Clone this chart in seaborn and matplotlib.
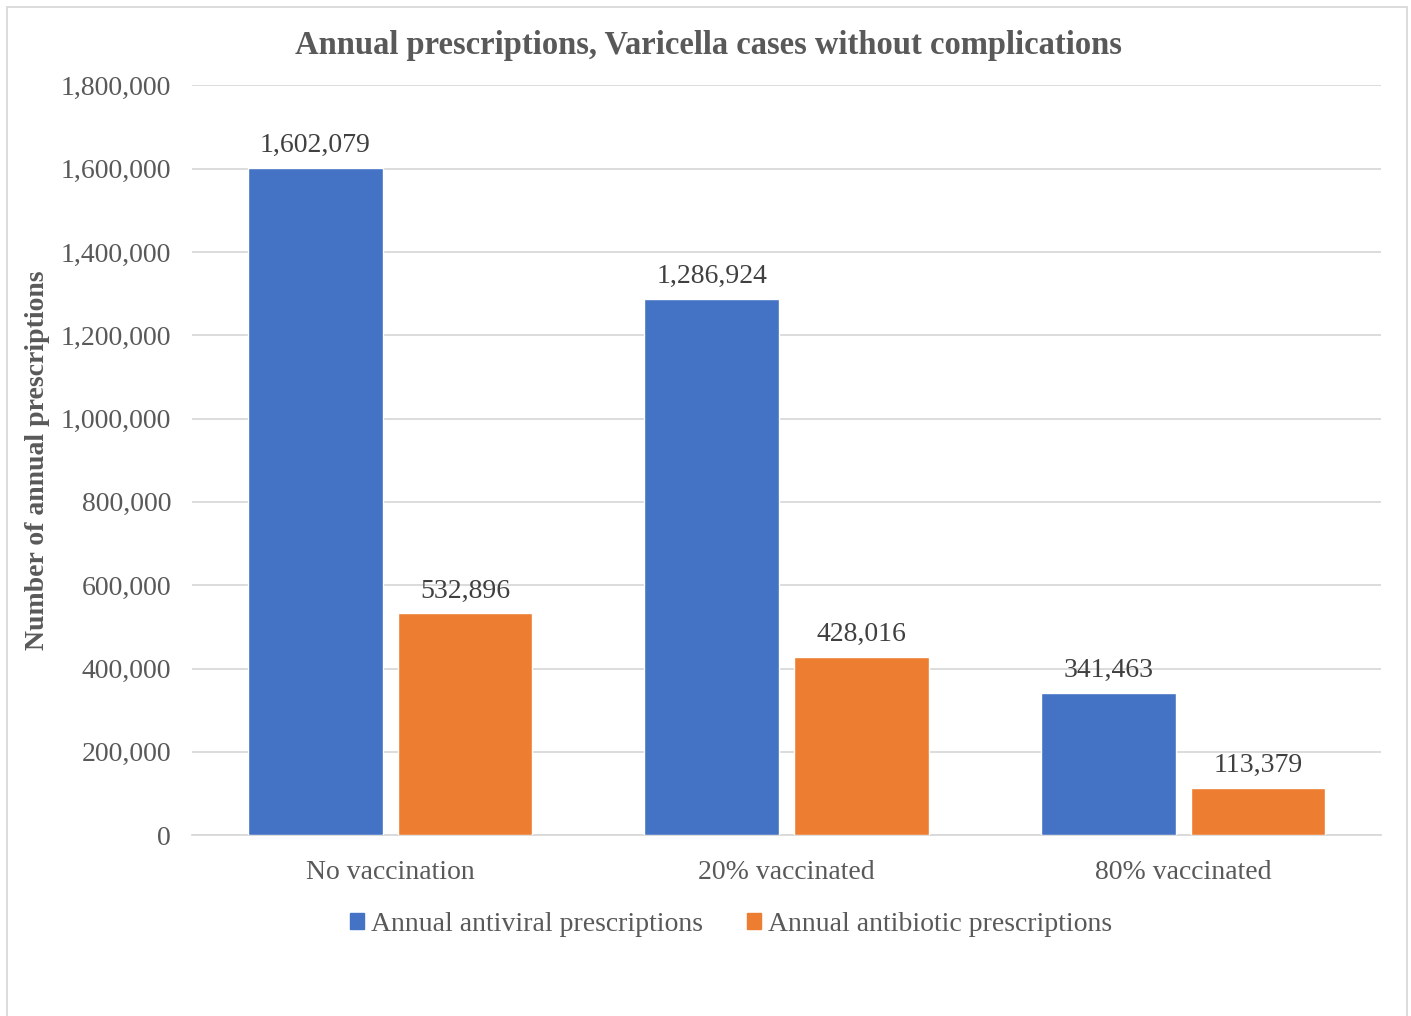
import matplotlib
matplotlib.use("Agg")
import matplotlib.pyplot as plt
import matplotlib.patches as mpatches
import seaborn as sns
import pandas as pd

# Scenario categories and prescription counts
scenarios = ["No vaccination", "20% vaccinated", "80% vaccinated"]
antiviral = [1602079, 1286924, 341463]
antibiotic = [532896, 428016, 113379]
series_names = ["Annual antiviral prescriptions", "Annual antibiotic prescriptions"]
yticks = [0, 200000, 400000, 600000, 800000, 1000000, 1200000, 1400000, 1600000, 1800000]

df = pd.DataFrame({
    "Scenario": scenarios * 2,
    "Series": [series_names[0]] * 3 + [series_names[1]] * 3,
    "Value": antiviral + antibiotic,
})

sns.set_theme(style="white")
plt.rcParams["font.family"] = ["Liberation Serif", "DejaVu Serif"]
text_gray = "#595959"
colors = ["#4472C4", "#ED7D31"]

fig = plt.figure(figsize=(14.11, 10.16), dpi=100)
ax = fig.add_axes([0.136, 0.178, 0.843, 0.738])

sns.barplot(data=df, x="Scenario", y="Value", hue="Series", palette=colors,
            width=0.755, gap=0.1, saturation=1, ax=ax, legend=False, zorder=3)

ax.set_ylim(0, 1800000)
ax.set_xlim(-0.5, 2.5)
ax.set_yticks(yticks)
ax.set_yticklabels([f"{v:,}" for v in yticks], fontsize=20, color=text_gray)
ax.tick_params(axis="x", labelsize=20, labelcolor=text_gray, pad=18, length=0)
ax.tick_params(axis="y", length=0, pad=15)
ax.set_xlabel("")
ax.set_ylabel("Number of annual prescriptions", fontsize=20, fontweight="bold",
              color=text_gray)
ax.yaxis.set_label_coords(-0.119, 0.5)
ax.grid(axis="y", color="#D9D9D9", linewidth=1.3, zorder=0)
ax.set_axisbelow(True)
for s in ["top", "right", "left"]:
    ax.spines[s].set_visible(False)
ax.spines["bottom"].set_color("#D9D9D9")
ax.spines["bottom"].set_linewidth(1.3)

for cont in ax.containers:
    ax.bar_label(cont, labels=[f"{v:,.0f}" for v in cont.datavalues],
                 padding=7, fontsize=20, color="#404040")

fig.suptitle("Annual prescriptions, Varicella cases without complications",
             x=0.502, y=0.97, fontsize=23.5, fontweight="bold", color=text_gray)

handles = [mpatches.Patch(color=c, label=n) for c, n in zip(colors, series_names)]
fig.legend(handles=handles, loc="center", bbox_to_anchor=(0.518, 0.09), ncol=2,
           frameon=False, fontsize=20, labelcolor=text_gray, handlelength=0.5,
           handleheight=0.5, handletextpad=0.25, columnspacing=1.6)

# Outer chart frame
frame = mpatches.Rectangle((7 / 1411, -0.05), 1400 / 1411, 1.05 - 7 / 1016,
                           transform=fig.transFigure, fill=False,
                           edgecolor="#D9D9D9", linewidth=1.3)
fig.patches.append(frame)

fig.savefig("out.png", dpi=100, facecolor="white")
